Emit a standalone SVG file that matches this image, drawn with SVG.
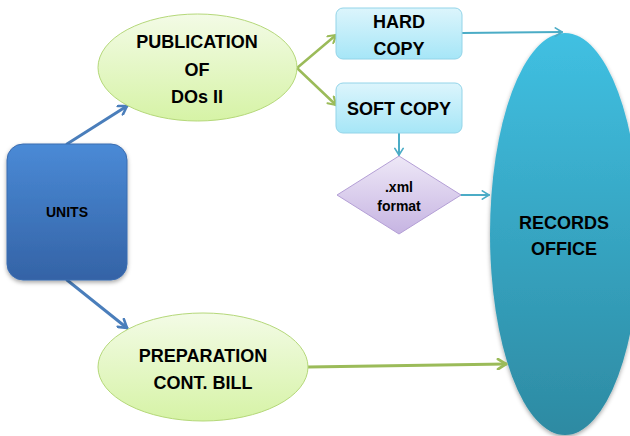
<svg xmlns="http://www.w3.org/2000/svg" width="630" height="436" viewBox="0 0 630 436">
<style>
  text { font-family: "Liberation Sans", Arial, sans-serif; font-weight: bold; fill: #000; text-anchor: middle; }
  .big { font-size: 18px; }
  .small { font-size: 14px; }
  .conn { fill: none; stroke-linecap: round; }
  .blue { stroke: #4a7ebb; stroke-width: 3; }
  .green { stroke: #9bbb59; stroke-width: 2.5; }
  .greenb { stroke: #9bbb59; stroke-width: 3; }
  .teal { stroke: #4bacc6; stroke-width: 2; }
</style>
<defs>
  <linearGradient id="gUnits" x1="0" y1="0" x2="0" y2="1">
    <stop offset="0" stop-color="#4a8ad6"/>
    <stop offset="1" stop-color="#3463a6"/>
  </linearGradient>
  <linearGradient id="gEll" x1="0" y1="0" x2="0" y2="1">
    <stop offset="0" stop-color="#f3fbe6"/>
    <stop offset="1" stop-color="#d6f3a6"/>
  </linearGradient>
  <linearGradient id="gBox" x1="0" y1="0" x2="0" y2="1">
    <stop offset="0" stop-color="#dcf5fc"/>
    <stop offset="1" stop-color="#a6e6f7"/>
  </linearGradient>
  <linearGradient id="gDia" x1="0" y1="0" x2="0" y2="1">
    <stop offset="0" stop-color="#eee8f7"/>
    <stop offset="1" stop-color="#c6b4e2"/>
  </linearGradient>
  <linearGradient id="gRec" x1="0" y1="0" x2="0" y2="1">
    <stop offset="0" stop-color="#40c0e2"/>
    <stop offset="1" stop-color="#2d8aa2"/>
  </linearGradient>
  <filter id="shadow" x="-20%" y="-20%" width="140%" height="140%">
    <feDropShadow dx="0" dy="2" stdDeviation="2" flood-color="#000" flood-opacity="0.35"/>
  </filter>
  <marker id="aBlue" viewBox="0 0 12 12" refX="10" refY="6" markerWidth="12" markerHeight="12" markerUnits="userSpaceOnUse" orient="auto">
    <path d="M2,1 L10,6 L2,11" fill="none" stroke="#4a7ebb" stroke-width="2.6" stroke-linecap="round" stroke-linejoin="round"/>
  </marker>
  <marker id="aGreen" viewBox="0 0 12 12" refX="10" refY="6" markerWidth="11" markerHeight="11" markerUnits="userSpaceOnUse" orient="auto">
    <path d="M2,1 L10,6 L2,11" fill="none" stroke="#9bbb59" stroke-width="2.4" stroke-linecap="round" stroke-linejoin="round"/>
  </marker>
  <marker id="aGreenB" viewBox="0 0 12 12" refX="10" refY="6" markerWidth="12" markerHeight="12" markerUnits="userSpaceOnUse" orient="auto">
    <path d="M2,1 L10,6 L2,11" fill="none" stroke="#9bbb59" stroke-width="2.8" stroke-linecap="round" stroke-linejoin="round"/>
  </marker>
  <marker id="aTeal" viewBox="0 0 12 12" refX="10" refY="6" markerWidth="10" markerHeight="10" markerUnits="userSpaceOnUse" orient="auto">
    <path d="M2,1 L10,6 L2,11" fill="none" stroke="#4bacc6" stroke-width="2" stroke-linecap="round" stroke-linejoin="round"/>
  </marker>
</defs>

<g id="records-office">
  <ellipse cx="565" cy="234" rx="75" ry="201" fill="url(#gRec)" filter="url(#shadow)"/>
  <text class="big" x="564" y="229">RECORDS</text>
  <text class="big" x="564" y="255">OFFICE</text>
</g>

<g id="connectors">
  <line class="conn blue" x1="67" y1="144" x2="127" y2="106" marker-end="url(#aBlue)"/>
  <line class="conn blue" x1="67" y1="280" x2="127" y2="328" marker-end="url(#aBlue)"/>
  <line class="conn green" x1="297" y1="68" x2="336" y2="35" marker-end="url(#aGreen)"/>
  <line class="conn green" x1="297" y1="68" x2="336" y2="105" marker-end="url(#aGreen)"/>
  <line class="conn greenb" x1="308" y1="367" x2="506" y2="364" marker-end="url(#aGreenB)"/>
  <line class="conn teal" x1="462" y1="33" x2="562" y2="32" marker-end="url(#aTeal)"/>
  <line class="conn teal" x1="399" y1="133" x2="399" y2="155" marker-end="url(#aTeal)"/>
  <line class="conn teal" x1="461" y1="195" x2="489" y2="195" marker-end="url(#aTeal)"/>
</g>

<g id="units">
  <rect x="7" y="144" width="120" height="136" rx="16" ry="16" fill="url(#gUnits)" stroke="#3a6cb0" stroke-width="1" filter="url(#shadow)"/>
  <text class="small" x="67" y="217">UNITS</text>
</g>

<g id="publication">
  <ellipse cx="197.5" cy="67.5" rx="99.5" ry="53.5" fill="url(#gEll)" stroke="#b5d87a" stroke-width="1"/>
  <text class="big" x="197" y="48">PUBLICATION</text>
  <text class="big" x="197" y="76">OF</text>
  <text class="big" x="197" y="103">DOs II</text>
</g>

<g id="preparation">
  <ellipse cx="203" cy="367" rx="105" ry="54" fill="url(#gEll)" stroke="#b5d87a" stroke-width="1"/>
  <text class="big" x="203" y="362">PREPARATION</text>
  <text class="big" x="203" y="389">CONT. BILL</text>
</g>

<g id="hard-copy">
  <rect x="336" y="8" width="126" height="51" rx="7" ry="7" fill="url(#gBox)" stroke="#93d4e8" stroke-width="1"/>
  <text class="big" x="399" y="28">HARD</text>
  <text class="big" x="399" y="55">COPY</text>
</g>

<g id="soft-copy">
  <rect x="336" y="83" width="126" height="50" rx="7" ry="7" fill="url(#gBox)" stroke="#93d4e8" stroke-width="1"/>
  <text class="big" x="399" y="115">SOFT COPY</text>
</g>

<g id="xml-format">
  <polygon points="399,156 461,195 399,234 337,195" fill="url(#gDia)" stroke="#b49fd6" stroke-width="1"/>
  <text class="small" x="399" y="192">.xml</text>
  <text class="small" x="399" y="211">format</text>
</g>
</svg>
